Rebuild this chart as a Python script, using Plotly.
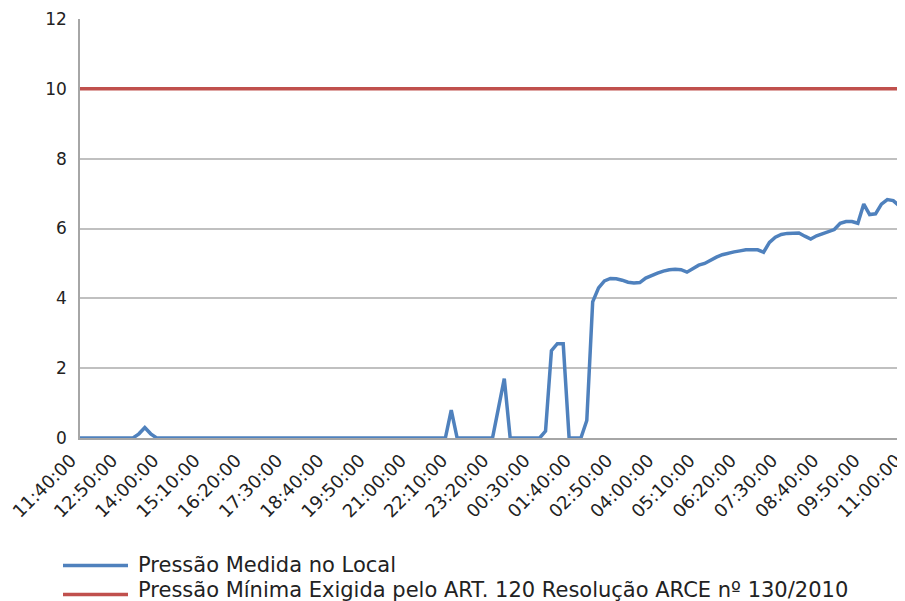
import datetime as dt
import plotly.graph_objects as go

# ---- data ----
start = dt.datetime(2000, 1, 1, 11, 40)
times = [(start + dt.timedelta(minutes=10 * i)).strftime("%H:%M:%S") for i in range(141)]

tick_labels = ["11:40:00", "12:50:00", "14:00:00", "15:10:00", "16:20:00", "17:30:00",
               "18:40:00", "19:50:00", "21:00:00", "22:10:00", "23:20:00", "00:30:00",
               "01:40:00", "02:50:00", "04:00:00", "05:10:00", "06:20:00", "07:30:00",
               "08:40:00", "09:50:00", "11:00:00"]

pressao_medida = (
    [0] * 10 + [0.12, 0.3, 0.12] + [0] * 49 +            # idx 0..61
    [0, 0.8, 0] + [0] * 5 +                             # idx 62..69
    [0, 0.85, 1.7, 0] + [0] * 5 +                       # idx 70..78
    [0.2, 2.5, 2.7, 2.7, 0, 0, 0, 0.5,                  # idx 79..86
     3.9, 4.3, 4.5, 4.57, 4.56, 4.52, 4.46, 4.44, 4.45, 4.58,
     4.66, 4.72, 4.78, 4.82, 4.83, 4.82, 4.75, 4.86, 4.95, 5.0,
     5.1, 5.18, 5.25, 5.3, 5.33, 5.36, 5.39, 5.39, 5.39, 5.32,
     5.6, 5.75, 5.83, 5.86, 5.87, 5.87, 5.78, 5.7, 5.79, 5.85,
     5.9, 5.97, 6.15, 6.2, 6.2, 6.15, 6.7, 6.4, 6.42, 6.7,
     6.83, 6.8, 6.65, 6.55]
)
pressao_minima = [10] * len(times)

series_names = ["Pressão Medida no Local",
                "Pressão Mínima Exigida pelo ART. 120 Resolução ARCE nº 130/2010"]
series_colors = ["#4F81BD", "#C0504D"]

FONT = "DejaVu Sans"
OFF = 8                      # page body margin of the html page
W, H = 905 - OFF, 601 - OFF
ML, MR, MT, MB = 80 - OFF, 0, 19 - OFF, 601 - 438
PW, PH = W - ML - MR, H - MT - MB


def px_to_paper(x, y):
    """viewport pixel -> paper coords"""
    x -= OFF
    y -= OFF
    return (x - ML) / PW, (H - MB - y) / PH


fig = go.Figure()
fig.add_trace(go.Scatter(x=times, y=pressao_medida, mode="lines", name=series_names[0],
                         line=dict(color=series_colors[0], width=3.5), showlegend=False))
fig.add_trace(go.Scatter(x=times, y=pressao_minima, mode="lines", name=series_names[1],
                         line=dict(color=series_colors[1], width=3.5), showlegend=False))

# manual legend (long line samples as in the reference)
for name, col, ly, ty in zip(series_names, series_colors, [565.5, 594.5], [565, 590]):
    x0, y0 = px_to_paper(63, ly)
    x1, _ = px_to_paper(128, ly)
    fig.add_shape(type="line", xref="paper", yref="paper",
                  x0=x0, x1=x1, y0=y0, y1=y0,
                  line=dict(color=col, width=3.5))
    tx, tyy = px_to_paper(136, ty)
    fig.add_annotation(text=name, xref="paper", yref="paper",
                       x=tx, y=tyy, xanchor="left", yanchor="middle", showarrow=False,
                       font=dict(family=FONT, size=21, color="#222"))

fig.update_layout(
    width=W, height=H,
    margin=dict(l=ML, r=MR, t=MT, b=MB, autoexpand=False),
    paper_bgcolor="white", plot_bgcolor="white",
    showlegend=False,
)
fig.update_xaxes(type="category", range=[0, len(times) - 1], automargin=False,
                 tickmode="array", tickvals=tick_labels, ticktext=tick_labels,
                 tickangle=-45, tickfont=dict(family=FONT, size=18, color="#222"),
                 showgrid=False, showline=True, linecolor="#a6a6a6", linewidth=1.5,
                 ticks="", zeroline=False, ticklabelstandoff=3, ticklabelshift=-9)
fig.update_yaxes(range=[0, 12], tickvals=[0, 2, 4, 6, 8, 10, 12], automargin=False,
                 tickfont=dict(family=FONT, size=17, color="#222"),
                 showgrid=True, gridcolor="#c0c0c0", gridwidth=1.5,
                 showline=True, linecolor="#a6a6a6", linewidth=1.5,
                 ticks="", ticklabelstandoff=8, zeroline=False)

fig.write_html("out.html")
